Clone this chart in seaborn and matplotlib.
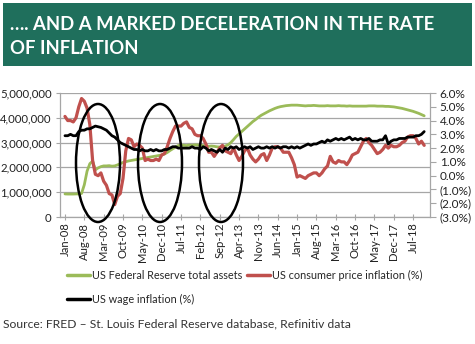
import numpy as np
import pandas as pd
import seaborn as sns
import matplotlib
matplotlib.use("Agg")
import matplotlib.pyplot as plt
from matplotlib.patches import Ellipse, Rectangle
from matplotlib.ticker import FuncFormatter, FixedLocator
from matplotlib.lines import Line2D

# ---------------- data (monthly, Jan-08 .. Nov-18) ----------------
months = pd.date_range("2008-01-01", "2018-11-01", freq="MS")
month_labels = [d.strftime("%b-%y") for d in months]

fed_assets = [  # US$ millions
    930000, 925000, 925000, 925000, 930000, 930000, 950000, 1300000, 1850000, 2150000, 2250000, 1900000,
    1980000, 2030000, 2060000, 2060000, 2070000, 2050000, 2060000, 2100000, 2150000, 2200000, 2230000, 2260000,
    2280000, 2300000, 2320000, 2340000, 2360000, 2380000, 2400000, 2420000, 2440000, 2460000, 2480000, 2500000,
    2540000, 2600000, 2680000, 2750000, 2820000, 2880000, 2900000, 2890000, 2880000, 2900000, 2890000, 2910000,
    2900000, 2890000, 2880000, 2870000, 2850000, 2860000, 2850000, 2830000, 2820000, 2840000, 2860000, 2910000,
    3000000, 3120000, 3250000, 3350000, 3450000, 3550000, 3650000, 3750000, 3850000, 3930000, 4020000, 4100000,
    4160000, 4220000, 4280000, 4330000, 4380000, 4420000, 4450000, 4470000, 4490000, 4500000, 4510000, 4510000,
    4510000, 4500000, 4490000, 4480000, 4490000, 4490000, 4500000, 4490000, 4480000, 4480000, 4480000, 4490000,
    4480000, 4480000, 4480000, 4490000, 4480000, 4480000, 4470000, 4480000, 4470000, 4470000, 4470000, 4470000,
    4470000, 4470000, 4480000, 4480000, 4480000, 4470000, 4470000, 4470000, 4460000, 4460000, 4450000, 4440000,
    4420000, 4400000, 4380000, 4350000, 4320000, 4290000, 4260000, 4220000, 4180000, 4130000, 4080000,
]

cpi_inflation = [  # %
    4.3, 4.0, 4.0, 3.9, 4.2, 5.0, 5.6, 5.4, 4.9, 3.7, 1.1, 0.1,
    0.0, 0.2, -0.4, -0.7, -1.3, -1.4, -2.1, -1.5, -1.3, -0.2, 1.8, 2.7,
    2.6, 2.1, 2.3, 2.2, 2.0, 1.1, 1.2, 1.1, 1.1, 1.2, 1.1, 1.5,
    1.6, 2.1, 2.7, 3.2, 3.6, 3.6, 3.6, 3.8, 3.9, 3.5, 3.4, 3.0,
    2.9, 2.9, 2.7, 2.3, 1.7, 1.7, 1.4, 1.7, 2.0, 2.2, 1.8, 1.7,
    1.6, 2.0, 1.5, 1.1, 1.4, 1.8, 2.0, 1.5, 1.2, 1.0, 1.2, 1.5,
    1.6, 1.1, 1.5, 2.0, 2.1, 2.1, 2.0, 1.7, 1.7, 1.7, 1.3, 0.8,
    -0.1, 0.0, -0.1, -0.2, 0.0, 0.1, 0.2, 0.2, 0.0, 0.2, 0.5, 0.7,
    1.4, 1.0, 0.9, 1.1, 1.0, 1.0, 0.8, 1.1, 1.5, 1.6, 1.7, 2.1,
    2.5, 2.7, 2.4, 2.2, 1.9, 1.6, 1.7, 1.9, 2.2, 2.0, 2.2, 2.1,
    2.1, 2.2, 2.4, 2.5, 2.8, 2.9, 2.9, 2.7, 2.3, 2.5, 2.2,
]

wage_inflation = [  # %
    2.9, 2.9, 3.0, 2.9, 2.9, 3.2, 3.3, 3.3, 3.4, 3.4, 3.5, 3.6,
    3.55, 3.5, 3.4, 3.3, 3.1, 2.9, 2.8, 2.6, 2.4, 2.3, 2.2, 2.1,
    2.0, 1.9, 1.9, 1.8, 1.9, 1.8, 1.8, 1.9, 1.8, 1.9, 1.8, 1.8,
    1.9, 1.9, 2.0, 2.1, 2.1, 2.0, 2.0, 2.0, 2.0, 2.0, 2.1, 2.0,
    2.0, 1.9, 2.1, 2.0, 1.8, 1.9, 1.8, 1.7, 1.9, 1.7, 2.0, 1.9,
    2.1, 2.0, 2.1, 1.9, 2.0, 2.1, 2.0, 2.1, 1.9, 2.0, 2.1, 2.0,
    2.0, 2.1, 2.0, 2.1, 2.0, 2.1, 2.0, 2.1, 2.1, 2.0, 2.1, 2.0,
    2.1, 2.0, 2.1, 2.2, 2.3, 2.2, 2.3, 2.3, 2.4, 2.5, 2.4, 2.6,
    2.5, 2.6, 2.7, 2.6, 2.7, 2.6, 2.7, 2.8, 2.6, 2.7, 2.6, 2.7,
    2.6, 2.6, 2.7, 2.5, 2.5, 2.5, 2.6, 2.6, 2.9, 2.3, 2.5, 2.6,
    2.6, 2.7, 2.7, 2.7, 2.8, 2.8, 2.8, 2.9, 2.9, 3.0, 3.2,
]

series_names = ["US Federal Reserve total assets", "US consumer price inflation (%)", "US wage inflation (%)"]
title_lines = ["…. AND A MARKED DECELERATION IN THE RATE", "OF INFLATION"]
source_text = "Source: FRED – St. Louis Federal Reserve database, Refinitiv data"

GREEN = "#9BBB59"
RED = "#C0504D"
BLACK = "#000000"
BANNER = "#1F6F5C"

# ---------------- figure ----------------
sns.set_theme(style="white")
plt.rcParams["font.family"] = ["Lato", "DejaVu Sans"]

W, H = 475, 344
fig = plt.figure(figsize=(W / 100, H / 100), dpi=100)

def fx(x):
    return x / W

def fy(y):
    return 1 - y / H

# title banner
fig.patches.append(Rectangle((fx(3), fy(66)), fx(469), 63 / H, transform=fig.transFigure,
                             facecolor=BANNER, edgecolor="none", zorder=0))
for line, base in zip(title_lines, (29.5, 54)):
    fig.text(fx(10), fy(base), line, color="white", fontsize=13.3, fontweight="bold",
             ha="left", va="baseline")

ax = fig.add_axes([fx(60), fy(217), fx(430) - fx(60), (217 - 93) / H])
ax2 = ax.twinx()

x = np.arange(len(months))
df = pd.DataFrame({"x": x, "assets": fed_assets, "cpi": cpi_inflation, "wage": wage_inflation})

sns.lineplot(data=df, x="x", y="assets", ax=ax, color=GREEN, linewidth=2.0)
sns.lineplot(data=df, x="x", y="cpi", ax=ax2, color=RED, linewidth=2.3)
sns.lineplot(data=df, x="x", y="wage", ax=ax2, color=BLACK, linewidth=2.0)

ax.set_xlim(-1.8, 132.1)
ax.set_ylim(0, 5_000_000)
ax2.set_ylim(-3, 6)

ax.set_yticks(np.arange(0, 5_000_001, 1_000_000))
ax.yaxis.set_major_formatter(FuncFormatter(lambda v, p: f"{int(v):,}"))
ax2.set_yticks(np.arange(-3, 7, 1))

def pct_fmt(v, p):
    return f"({abs(v):.1f}%)" if v < 0 else f"{v:.1f}%"

ax2.yaxis.set_major_formatter(FuncFormatter(pct_fmt))

tick_pos = list(range(0, len(months), 7))
ax.xaxis.set_major_locator(FixedLocator(tick_pos))
ax.set_xticklabels([month_labels[i] for i in tick_pos], rotation=90, fontsize=8.1, color="#222222")

for a in (ax, ax2):
    a.set_xlabel("")
    a.set_ylabel("")
    for s in a.spines.values():
        s.set_visible(False)

ax.grid(axis="y", color="#A6A6A6", linewidth=0.9)
ax.grid(axis="x", visible=False)
ax2.grid(False)
ax.set_axisbelow(True)

ax.spines["left"].set_visible(True)
ax.spines["bottom"].set_visible(True)
ax2.spines["right"].set_visible(True)
for s in (ax.spines["left"], ax.spines["bottom"], ax2.spines["right"]):
    s.set_color("#A6A6A6")
    s.set_linewidth(0.9)

ax.tick_params(axis="y", labelsize=8.2, colors="#222222", length=3, width=0.8, color="#A6A6A6", pad=3, left=True)
ax.tick_params(axis="x", length=4, width=0.8, color="#A6A6A6", pad=2, bottom=True, direction="inout")
ax2.tick_params(axis="y", labelsize=8.5, colors="#222222", length=4, width=0.8, color="#A6A6A6", pad=3, right=True)

# highlight ellipses
for cx in (98, 160, 221):
    fig.patches.append(Ellipse((fx(cx), fy(163)), 44 / W, 118 / H, transform=fig.transFigure,
                               fill=False, edgecolor="black", linewidth=1.8, zorder=10))

# legend
handles = [Line2D([], [], color=GREEN, linewidth=2.5),
           Line2D([], [], color=BLACK, linewidth=2.5),
           Line2D([], [], color=RED, linewidth=2.5)]
labels = [series_names[0], series_names[2], series_names[1]]
fig.legend(handles, labels, loc="upper left", bbox_to_anchor=(fx(67), fy(270)), ncol=2,
           frameon=False, fontsize=7.8, handlelength=2.1, handletextpad=0.2,
           columnspacing=0.45, labelspacing=1.15, borderaxespad=0, borderpad=0)

fig.text(fx(3), fy(324), source_text, fontsize=8.75, color="#333333", ha="left", va="center")

fig.savefig("out.png", dpi=100)
